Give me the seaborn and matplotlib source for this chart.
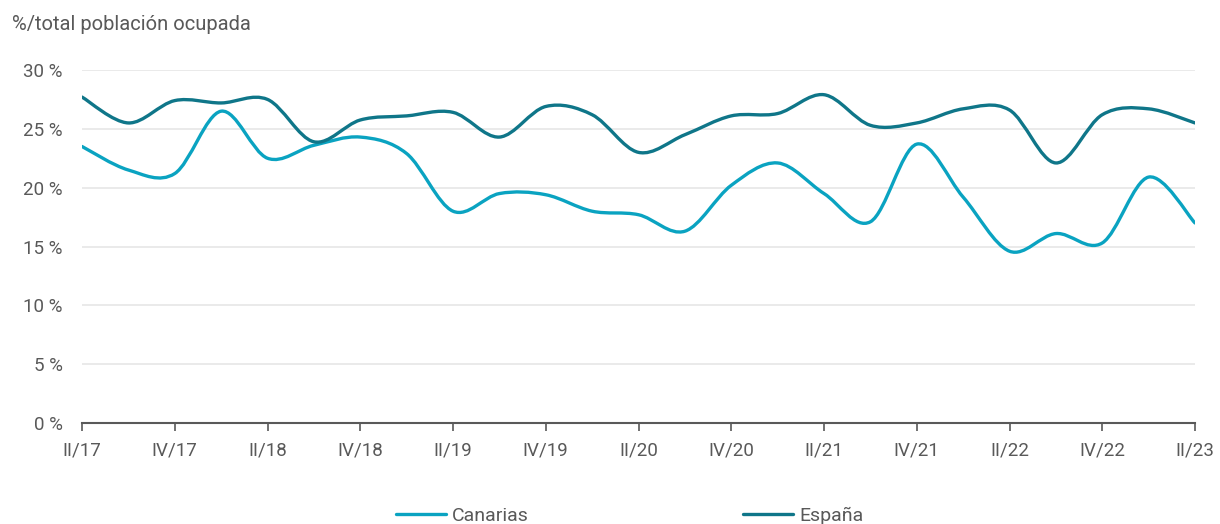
import seaborn as sns
import matplotlib.pyplot as plt
from matplotlib.path import Path
from matplotlib.patches import PathPatch
from matplotlib.lines import Line2D
import numpy as np

# quarters II/17 .. II/23
quarters = ['II/17', 'III/17', 'IV/17', 'I/18', 'II/18', 'III/18', 'IV/18', 'I/19',
            'II/19', 'III/19', 'IV/19', 'I/20', 'II/20', 'III/20', 'IV/20', 'I/21',
            'II/21', 'III/21', 'IV/21', 'I/22', 'II/22', 'III/22', 'IV/22', 'I/23', 'II/23']
canarias = [23.5, 21.5, 21.2, 26.5, 22.5, 23.6, 24.3, 22.9, 18.0, 19.5, 19.4, 18.0, 17.7,
            16.3, 20.2, 22.1, 19.5, 17.1, 23.7, 19.2, 14.6, 16.1, 15.3, 20.9, 17.0]
espana = [27.7, 25.5, 27.4, 27.2, 27.5, 23.9, 25.75, 26.1, 26.4, 24.3, 26.9, 26.2, 23.0,
          24.5, 26.1, 26.3, 27.9, 25.3, 25.5, 26.7, 26.6, 22.1, 26.2, 26.7, 25.5]
series_names = ['Canarias', 'España']
series_colors = ['#0aa3c1', '#0f7689']

sns.set_theme(style='white')
plt.rcParams['font.family'] = ['Roboto', 'DejaVu Sans']
grey = '#595959'

fig = plt.figure(figsize=(12.2, 5.24), dpi=100)
ax = fig.add_axes([82 / 1220, 1 - 423 / 524, (1195 - 82) / 1220, (423 - 70) / 524])


def smooth_path(x, y, t=1 / 6):
    # Bezier path through the points (Catmull-Rom style control points)
    x = np.asarray(x, float)
    y = np.asarray(y, float)
    n = len(x)
    verts = [(x[0], y[0])]
    codes = [Path.MOVETO]
    for i in range(n - 1):
        x0, y0 = (x[i - 1], y[i - 1]) if i > 0 else (x[i], y[i])
        x3, y3 = (x[i + 2], y[i + 2]) if i + 2 < n else (x[i + 1], y[i + 1])
        c1 = (x[i] + (x[i + 1] - x0) * t, y[i] + (y[i + 1] - y0) * t)
        c2 = (x[i + 1] - (x3 - x[i]) * t, y[i + 1] - (y3 - y[i]) * t)
        verts += [c1, c2, (x[i + 1], y[i + 1])]
        codes += [Path.CURVE4] * 3
    return Path(verts, codes)


xs = np.arange(len(quarters))
for vals, col in zip([canarias, espana], series_colors):
    ax.add_patch(PathPatch(smooth_path(xs, vals), fill=False, edgecolor=col,
                           lw=2.4, capstyle='round', joinstyle='round', zorder=3))

ax.set_xlim(0, len(quarters) - 1)
ax.set_ylim(0, 30)
ax.set_yticks(range(0, 31, 5))
ax.set_yticklabels([f'{v} %' for v in range(0, 31, 5)])
ax.set_xticks(xs[::2])
ax.set_xticklabels(quarters[::2])
ax.grid(axis='y', color='#e6e6e6', lw=1.2)
ax.set_axisbelow(True)
for s in ['top', 'right', 'left']:
    ax.spines[s].set_visible(False)
ax.spines['bottom'].set_color(grey)
ax.spines['bottom'].set_linewidth(1.5)
ax.spines['bottom'].set_zorder(4)
ax.tick_params(axis='x', direction='out', length=6, width=1.2, color=grey,
               labelcolor=grey, labelsize=13.5, pad=7, bottom=True)
ax.tick_params(axis='y', length=0, labelcolor=grey, labelsize=13.5, pad=14)

fig.text(12 / 1220, 1 - 24 / 524, '%/total población ocupada', fontsize=14.5,
         color=grey, va='center', ha='left')

handles = [Line2D([], [], color=c, lw=2.4) for c in series_colors]
fig.legend(handles, series_names, loc='center', ncol=2, frameon=False,
           bbox_to_anchor=(0.516, 1 - 516 / 524), fontsize=14, labelcolor=grey,
           handlelength=2.6, handletextpad=0.3, columnspacing=11)

fig.savefig('out.png', dpi=100)
